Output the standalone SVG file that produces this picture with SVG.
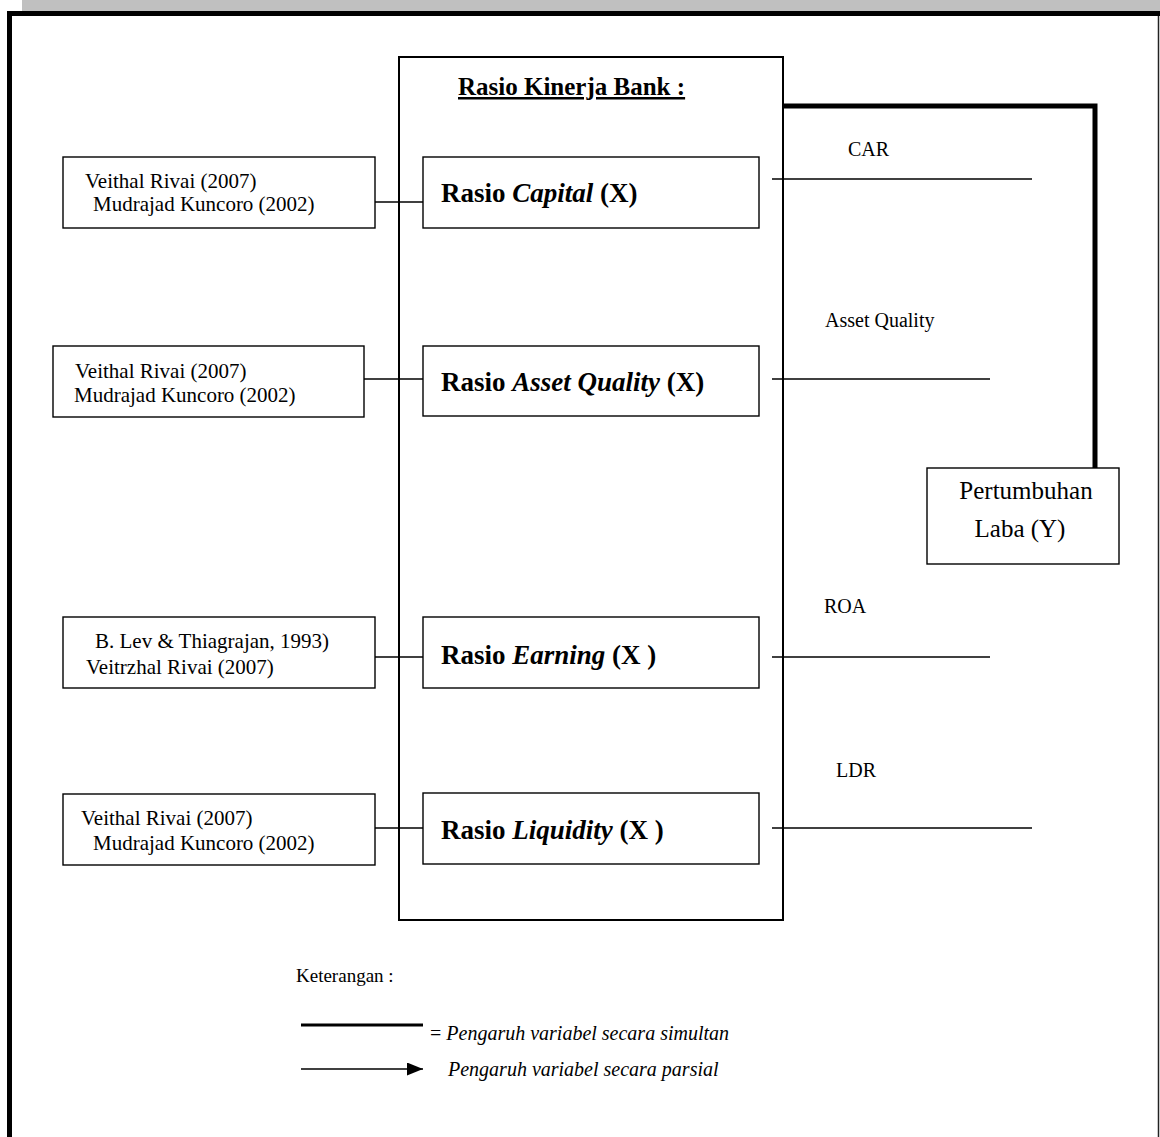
<svg xmlns="http://www.w3.org/2000/svg" width="1160" height="1137" viewBox="0 0 1160 1137">
<style>
text{font-family:"Liberation Serif","Times New Roman",serif;fill:#000}
.box{fill:#fff;stroke:#000;stroke-width:1.4}
.ref{font-size:21px}
.var{font-size:27px;font-weight:bold}
.lbl{font-size:20px}
.thin{stroke:#000;stroke-width:1.4;fill:none}
.thick{stroke:#000;stroke-width:5;fill:none}
.leg{font-size:20px;font-style:italic}
</style>
<defs>
<marker id="ah" viewBox="0 0 16 13" refX="16" refY="6.5" markerWidth="16" markerHeight="13" markerUnits="userSpaceOnUse" orient="auto"><path d="M0,0 L16,6.5 L0,13 Z" fill="#000"/></marker>
</defs>
<rect width="1160" height="1137" fill="#fff"/>
<rect x="22" y="0" width="1138" height="11" fill="#c0c0c0"/>
<g id="frame">
<rect x="7" y="11" width="1153" height="5" fill="#000"/>
<rect x="7" y="11" width="5" height="1126" fill="#000"/>
<line x1="1158.5" y1="16" x2="1158.5" y2="1137" stroke="#222" stroke-width="1.5"/>
</g>
<g id="bank-box">
<rect x="399" y="57" width="384" height="863" fill="none" stroke="#000" stroke-width="2"/>
<text x="458" y="95" font-size="25" font-weight="bold" text-decoration="underline">Rasio Kinerja Bank :</text>
</g>
<g id="connectors">
<polyline class="thick" points="783,106 1095,106 1095,468"/>
<line class="thin" x1="375" y1="202" x2="423" y2="202"/>
<line class="thin" x1="364" y1="379" x2="423" y2="379"/>
<line class="thin" x1="375" y1="657" x2="423" y2="657"/>
<line class="thin" x1="375" y1="828" x2="423" y2="828"/>
<line class="thin" x1="772" y1="179" x2="1032" y2="179"/>
<line class="thin" x1="772" y1="379" x2="990" y2="379"/>
<line class="thin" x1="772" y1="657" x2="990" y2="657"/>
<line class="thin" x1="772" y1="828" x2="1032" y2="828"/>
</g>
<g id="ref1">
<rect class="box" x="63" y="157" width="312" height="71"/>
<text class="ref" x="85" y="188">Veithal Rivai (2007)</text>
<text class="ref" x="93" y="211">Mudrajad Kuncoro (2002)</text>
</g>
<g id="ref2">
<rect class="box" x="53" y="346" width="311" height="71"/>
<text class="ref" x="75" y="378">Veithal Rivai (2007)</text>
<text class="ref" x="74" y="402">Mudrajad Kuncoro (2002)</text>
</g>
<g id="ref3">
<rect class="box" x="63" y="617" width="312" height="71"/>
<text class="ref" x="95" y="648">B. Lev &amp; Thiagrajan, 1993)</text>
<text class="ref" x="86" y="674">Veitrzhal Rivai (2007)</text>
</g>
<g id="ref4">
<rect class="box" x="63" y="794" width="312" height="71"/>
<text class="ref" x="81" y="825">Veithal Rivai (2007)</text>
<text class="ref" x="93" y="850">Mudrajad Kuncoro (2002)</text>
</g>
<g id="capital">
<rect class="box" x="423" y="157" width="336" height="71"/>
<text class="var" x="441" y="202">Rasio <tspan font-style="italic">Capital</tspan> (X)</text>
</g>
<g id="asset-quality">
<rect class="box" x="423" y="346" width="336" height="70"/>
<text class="var" x="441" y="391">Rasio <tspan font-style="italic">Asset Quality</tspan>  (X)</text>
</g>
<g id="earning">
<rect class="box" x="423" y="617" width="336" height="71"/>
<text class="var" x="441" y="664">Rasio <tspan font-style="italic">Earning</tspan> (X )</text>
</g>
<g id="liquidity">
<rect class="box" x="423" y="793" width="336" height="71"/>
<text class="var" x="441" y="839">Rasio <tspan font-style="italic">Liquidity</tspan> (X )</text>
</g>
<g id="labels">
<text class="lbl" x="848" y="156">CAR</text>
<text class="lbl" x="825" y="327">Asset Quality</text>
<text class="lbl" x="824" y="613">ROA</text>
<text class="lbl" x="836" y="777">LDR</text>
</g>
<g id="pertumbuhan-laba">
<rect class="box" x="927" y="468" width="192" height="96"/>
<text x="1026" y="499" font-size="25" text-anchor="middle">Pertumbuhan</text>
<text x="1020" y="537" font-size="25" text-anchor="middle">Laba (Y)</text>
</g>
<g id="legend">
<text x="296" y="982" font-size="19">Keterangan :</text>
<line x1="301" y1="1025" x2="423" y2="1025" stroke="#000" stroke-width="3"/>
<text class="leg" x="430" y="1040"><tspan font-style="normal">= </tspan>Pengaruh variabel secara simultan</text>
<line x1="301" y1="1069" x2="423" y2="1069" stroke="#000" stroke-width="1.4" marker-end="url(#ah)"/>
<text class="leg" x="448" y="1076" font-size="21">Pengaruh variabel secara parsial</text>
</g>
</svg>
